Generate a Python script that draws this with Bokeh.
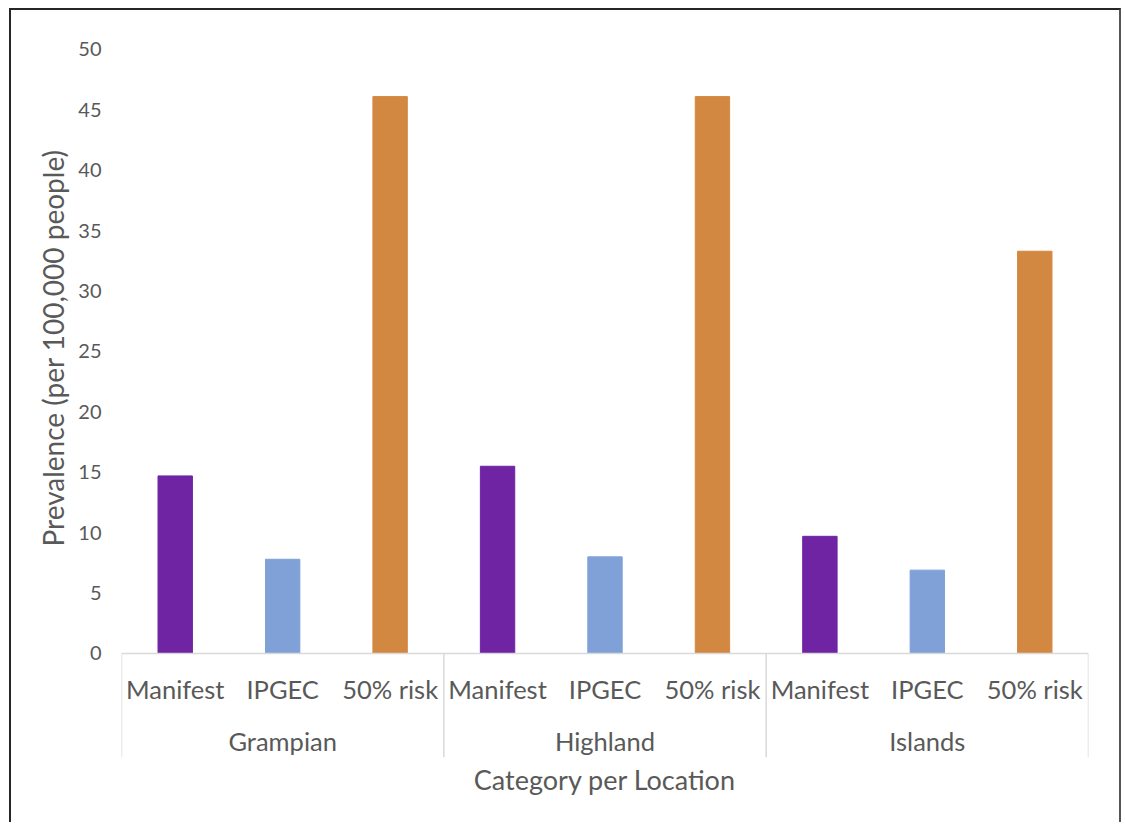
from bokeh.plotting import figure
from bokeh.models import (FactorRange, ColumnDataSource, FixedTicker, LinearAxis,
                          Span, Range1d, Title)
from bokeh.core.properties import value
from bokeh.embed import file_html
from bokeh.resources import INLINE

# ---- data ----
locations = ["Grampian", "Highland", "Islands"]
categories = ["Manifest", "IPGEC", "50% risk"]
manifest = [14.7, 15.5, 9.7]
ipgec = [7.8, 8.0, 6.9]
risk50 = [46.1, 46.1, 33.3]
y_ticks = [0, 5, 10, 15, 20, 25, 30, 35, 40, 45, 50]
colors = ["#6E24A3", "#7FA1D8", "#D38842"]

series = [manifest, ipgec, risk50]
factors = [(loc, cat) for loc in locations for cat in categories]
vals = [series[j][i] for i in range(len(locations)) for j in range(len(categories))]
bar_colors = [colors[j] for i in range(len(locations)) for j in range(len(categories))]
src = ColumnDataSource(dict(x=factors, top=vals, color=bar_colors,
                            label=[c for _, c in factors]))

FONT = "Lato"
TXT = "#595959"
Y0, Y1 = -8.61, 52.4

x_range = FactorRange(*factors, factor_padding=0, group_padding=0, range_padding=0)
p = figure(x_range=x_range, y_range=Range1d(Y0, Y1), width=1112, height=814,
           output_backend="svg", toolbar_location=None, x_axis_type=None,
           min_border_left=110, min_border_right=35, min_border_top=10,
           min_border_bottom=67)
p.styles = {"margin-left": "9px", "margin-top": "8px",
            "border-left": "2px solid #262626", "border-top": "2px solid #262626",
            "border-right": "2px solid #555555"}
p.outline_line_color = None
p.ygrid.grid_line_color = None
p.background_fill_color = "white"
p.border_fill_color = "white"

p.vbar(x="x", top="top", bottom=0, width=0.32, color="color", source=src)

# y axis
ya = p.yaxis[0]
ya.ticker = FixedTicker(ticks=y_ticks)
ya.axis_line_color = None
ya.major_tick_line_color = None
ya.minor_tick_line_color = None
ya.major_tick_out = 0
ya.major_label_standoff = 20
ya.major_label_text_font = FONT
ya.major_label_text_font_size = "20px"
ya.major_label_text_color = TXT

# y axis title, placed alongside the 0-50 value span
p.add_layout(Title(text="Prevalence (per 100,000 people)", align="left", offset=211,
                   text_font=FONT, text_font_size="28px", text_font_style="normal",
                   text_color=TXT, standoff=11), "left")

# x axis title
xa = LinearAxis(ticker=FixedTicker(ticks=[]), axis_label="Category per Location")
xa.axis_line_color = None
xa.major_tick_line_color = None
xa.minor_tick_line_color = None
xa.major_tick_out = 0
xa.major_label_standoff = 0
xa.axis_label_text_font = FONT
xa.axis_label_text_font_size = "27px"
xa.axis_label_text_font_style = "normal"
xa.axis_label_text_color = TXT
xa.axis_label_standoff = 5
p.add_layout(xa, "below")

# category axis line and group separators
p.add_layout(Span(location=0, dimension="width", line_color="#D9D9D9", line_width=1.5))
n = len(categories)
bounds = [i * n for i in range(len(locations) + 1)]
p.segment(x0=bounds, y0=[0] * len(bounds), x1=bounds, y1=[Y0] * len(bounds),
          line_color="#D9D9D9", line_width=1.5)

# category and group labels
p.text(x="x", y=-2.9, text="label", source=src, text_align="center",
       text_baseline="middle", text_font=value(FONT), text_font_size="25.5px",
       text_color=TXT)
p.text(x=[(i + 0.5) * n for i in range(len(locations))], y=-7.28, text=locations,
       text_align="center", text_baseline="middle", text_font=value(FONT),
       text_font_size="25.5px", text_color=TXT)

open("out.html", "w").write(file_html(p, INLINE))
